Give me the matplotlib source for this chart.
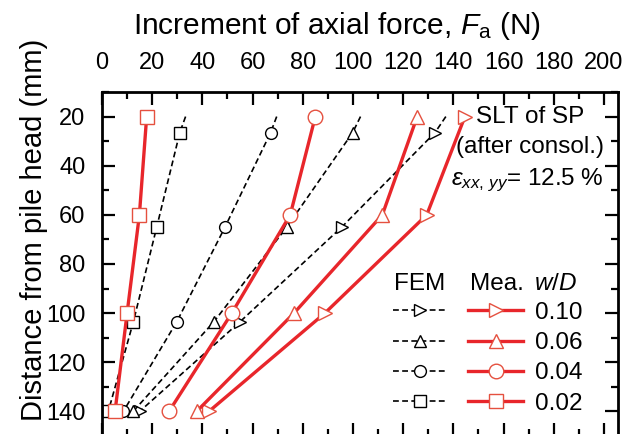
import numpy as np
import matplotlib
matplotlib.use('Agg')
import matplotlib.pyplot as plt
from matplotlib.ticker import MultipleLocator
from matplotlib.lines import Line2D

plt.rcParams['font.family'] = ['Liberation Sans', 'DejaVu Sans']
plt.rcParams['mathtext.fontset'] = 'custom'
plt.rcParams['mathtext.rm'] = 'Liberation Sans'
plt.rcParams['mathtext.it'] = 'Liberation Sans:italic'

# w/D levels
wd_labels = ['0.10', '0.06', '0.04', '0.02']
markers = ['>', '^', 'o', 's']

# measured increment of axial force (N) at 20, 60, 100, 140 mm
mea_depth = [20, 60, 100, 140]
mea_010 = [144.6, 129.4, 88.8, 42.6]
mea_006 = [125.6, 111.7, 76.5, 37.7]
mea_004 = [85.0, 75.0, 51.7, 26.7]
mea_002 = [17.8, 14.9, 10.0, 5.2]

# FEM curves (line starts at 20 mm, symbols at the other depths)
fem_depth = [20, 26.5, 65, 103.5, 140]
fem_010 = [137.0, 132.7, 95.5, 55.0, 15.0]
fem_006 = [103.0, 99.9, 73.6, 44.6, 12.4]
fem_004 = [69.6, 67.2, 49.0, 29.8, 8.5]
fem_002 = [33.3, 31.0, 21.8, 12.5, 2.5]

mea_all = [mea_010, mea_006, mea_004, mea_002]
fem_all = [fem_010, fem_006, fem_004, fem_002]

red = '#e8262b'
red_edge = '#e5503f'
fs = 17.5

fig = plt.figure(figsize=(6.24, 4.34), dpi=100)
ax = fig.add_axes([102 / 624, -2 / 434, 516 / 624, 344 / 434])

fem_handles = []
mea_handles = []
for fem, mea, mk in zip(fem_all, mea_all, markers):
    ax.plot(fem, fem_depth, color='black', lw=1.2, ls=(0, (3.5, 2)),
            marker=mk, markevery=[1, 2, 3, 4], ms=8.5, mfc='white',
            mec='black', mew=1.0)
    ax.plot(mea, mea_depth, color=red, lw=2.4, marker=mk, ms=10.5,
            mfc='white', mec=red_edge, mew=1.0)
    fem_handles.append(Line2D([], [], color='black', lw=1.2, ls=(0, (3.5, 2)),
                              marker=mk, ms=8.5, mfc='white', mec='black', mew=1.0))
    mea_handles.append(Line2D([], [], color=red, lw=2.4, marker=mk, ms=10.5,
                              mfc='white', mec=red_edge, mew=1.0))

ax.set_xlim(0, 205.6)
ax.set_ylim(150, 10)
ax.xaxis.set_minor_locator(MultipleLocator(10))
ax.yaxis.set_minor_locator(MultipleLocator(10))
ax.xaxis.tick_top()
ax.xaxis.set_label_position('top')
ax.set_xticks(np.arange(0, 201, 20))
ax.set_yticks(np.arange(20, 141, 20))
ax.tick_params(which='both', direction='in', top=True, bottom=True,
               left=True, right=True, labeltop=True, labelbottom=False,
               labelsize=17, width=1.6)
ax.tick_params(which='major', length=9.5)
ax.tick_params(which='minor', length=5)
ax.tick_params(axis='x', pad=13)
ax.tick_params(axis='y', pad=12)
for s in ax.spines.values():
    s.set_linewidth(2.0)

ax.set_xlabel(r'Increment of axial force, $\mathit{F}_{\mathrm{a}}$ (N)',
              fontsize=21.5)
ax.xaxis.set_label_coords(0.455, 1.17)
ax.set_ylabel('Distance from pile head (mm)', fontsize=21)
ax.yaxis.set_label_coords(-0.105, 0.60)

ax.text(170.5, 20, 'SLT of SP', ha='center', va='center', fontsize=fs)
ax.text(170.5, 32.4, '(after consol.)', ha='center', va='center', fontsize=fs)
ax.text(169.5, 46, r'$\varepsilon_{xx,\,yy}$= 12.5 %', ha='center',
        va='center', fontsize=fs)

# legend: FEM column, measured column, w/D labels
handles = fem_handles + mea_handles
labels = [''] * 4 + wd_labels
ax.legend(handles, labels, ncol=2, loc='upper left',
          bbox_to_anchor=(0.564, 0.39), frameon=False, fontsize=fs,
          handlelength=2.25, handletextpad=0.5, columnspacing=0.35,
          labelspacing=0.34, borderpad=0, borderaxespad=0, numpoints=1)
ax.text(126.7, 88, 'FEM', ha='center', va='center', fontsize=fs)
ax.text(157.4, 88, 'Mea.', ha='center', va='center', fontsize=fs)
ax.text(180.5, 88, r'$w$/$D$', ha='center', va='center', fontsize=fs)

fig.savefig('out.png', dpi=100)
